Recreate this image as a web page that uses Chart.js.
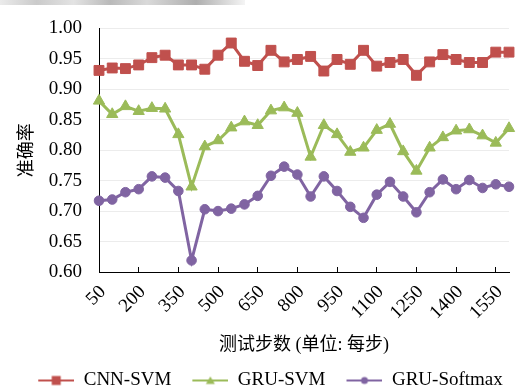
<!DOCTYPE html>
<html>
<head>
<meta charset="utf-8">
<script src="https://cdn.jsdelivr.net/npm/chart.js@4.4.1/dist/chart.umd.min.js"></script>
<style>
  html, body { margin: 0; padding: 0; background: #fff; }
  #wrap { position: relative; width: 530px; height: 392px; overflow: hidden; }
  #strip { position: absolute; left: 0; top: 0; width: 245px; height: 5px;
    background: linear-gradient(90deg, #e6e6e6 0%, #bdbdbd 15%, #dcdcdc 30%, #a8a8a8 45%, #d0d0d0 60%, #9a9a9a 80%, #f2f2f2 100%); opacity: 0.8; }
  canvas { position: absolute; left: 0; top: 0; }
</style>
</head>
<body>
<div id="wrap">
  <div id="strip"></div>
  <canvas id="c" width="530" height="392"></canvas>
</div>
<script>
// ---- data ----
const steps = [50,100,150,200,250,300,350,400,450,500,550,600,650,700,750,800,
               850,900,950,1000,1050,1100,1150,1200,1250,1300,1350,1400,1450,1500,1550,1600];
const tickLabels = ['50','200','350','500','650','800','950','1100','1250','1400','1550'];
const seriesNames = ['CNN-SVM', 'GRU-SVM', 'GRU-Softmax'];
const cnnSvm = [0.931,0.935,0.934,0.940,0.952,0.956,0.940,0.940,0.933,0.956,0.976,0.946,0.939,0.964,0.945,0.949,
                0.954,0.930,0.949,0.941,0.964,0.938,0.944,0.949,0.923,0.945,0.957,0.949,0.944,0.944,0.961,0.961];
const gruSvm = [0.881,0.859,0.872,0.864,0.869,0.868,0.826,0.740,0.806,0.816,0.837,0.847,0.841,0.865,0.870,0.861,
                0.789,0.841,0.826,0.797,0.804,0.833,0.843,0.798,0.766,0.804,0.821,0.832,0.834,0.824,0.812,0.836];
const gruSoftmax = [0.717,0.719,0.731,0.736,0.757,0.755,0.733,0.619,0.703,0.700,0.704,0.711,0.725,0.758,0.773,0.760,
                    0.724,0.757,0.733,0.707,0.689,0.727,0.748,0.724,0.698,0.731,0.752,0.736,0.751,0.738,0.744,0.740];
const yTicks = { min: 0.60, max: 1.00, step: 0.05 };

// ---- styles ----
const colors = ['#C0504D', '#9BBB59', '#8064A2'];
const pointStyles = ['rect', 'triangle', 'circle'];
const pointRadii = [7, 6.5, 4.8];
const serif = "'Liberation Serif', 'Times New Roman', serif";
const cjk = "'Liberation Serif', 'Noto Sans CJK SC', serif";

function legendIcon(color, style) {
  const cv = document.createElement('canvas');
  cv.width = 47; cv.height = 12;
  const g = cv.getContext('2d');
  g.strokeStyle = color; g.fillStyle = color; g.lineWidth = 2;
  g.beginPath(); g.moveTo(11, 6); g.lineTo(47, 6); g.stroke();
  const cx = 29, cy = 6;
  g.beginPath();
  if (style === 'rect') { g.rect(cx - 4.5, cy - 4.5, 9, 9); }
  else if (style === 'triangle') { g.moveTo(cx, cy - 4); g.lineTo(cx + 4.5, cy + 3.5); g.lineTo(cx - 4.5, cy + 3.5); g.closePath(); }
  else { g.arc(cx, cy, 3.5, 0, Math.PI * 2); }
  g.fill();
  return cv;
}
const icons = colors.map((c, i) => legendIcon(c, pointStyles[i]));

const datasets = [cnnSvm, gruSvm, gruSoftmax].map((d, i) => ({
  label: seriesNames[i],
  data: d,
  borderColor: colors[i],
  backgroundColor: colors[i],
  borderWidth: 3,
  tension: 0,
  pointStyle: pointStyles[i],
  pointRadius: pointRadii[i],
  pointBackgroundColor: colors[i],
  pointBorderColor: colors[i],
  pointBorderWidth: 1
}));

new Chart(document.getElementById('c'), {
  type: 'line',
  data: { labels: steps.map(String), datasets },
  options: {
    responsive: false,
    animation: false,
    devicePixelRatio: 1,
    layout: { padding: { top: 18, right: 0, bottom: -8, left: 0 } },
    plugins: {
      tooltip: { enabled: false },
      legend: {
        position: 'bottom',
        labels: {
          usePointStyle: true,
          pointStyleWidth: 47,
          padding: 10,
          color: '#000',
          font: { family: serif, size: 19 },
          generateLabels(chart) {
            const items = Chart.defaults.plugins.legend.labels.generateLabels(chart);
            items.forEach((it, i) => { it.pointStyle = icons[i]; });
            return items;
          }
        }
      }
    },
    scales: {
      x: {
        type: 'category',
        offset: false,
        border: { color: '#000', width: 1 },
        grid: {
          display: true,
          drawOnChartArea: false,
          drawTicks: true,
          tickLength: -5,
          color: (ctx) => (ctx.tick && ctx.index > 0 && tickLabels.includes(String(steps[ctx.index]))) ? '#000' : 'rgba(0,0,0,0)'
        },
        ticks: {
          autoSkip: false,
          minRotation: 45,
          maxRotation: 45,
          padding: 14,
          labelOffset: 4,
          color: '#000',
          font: { family: serif, size: 19 },
          callback(v, i) { const s = String(steps[i]); return tickLabels.includes(s) ? s : ''; }
        },
        title: {
          display: true,
          text: '测试步数 (单位: 每步)',
          color: '#000',
          font: { family: cjk, size: 18 },
          padding: { top: 0, bottom: 5 }
        },
        afterFit(s) { s.height = 89; s.paddingRight = 0; s.paddingLeft = 0; }
      },
      y: {
        min: yTicks.min,
        max: yTicks.max,
        border: { color: '#000', width: 1 },
        grid: { color: '#ececec', drawTicks: false, lineWidth: 1 },
        ticks: {
          stepSize: yTicks.step,
          padding: 17,
          color: '#000',
          font: { family: serif, size: 19 },
          callback: (v) => Number(v).toFixed(2)
        },
        title: {
          display: true,
          text: '准确率',
          color: '#000',
          font: { family: "'Noto Sans CJK SC', sans-serif", size: 18 },
          padding: { top: 14, bottom: 0 }
        },
        afterFit(s) { s.width = 99; }
      },
      yR: {
        type: 'linear',
        position: 'right',
        display: true,
        grid: { display: false },
        border: { display: false },
        ticks: { display: false },
        afterFit(s) { s.width = 21; }
      }
    }
  }
});
</script>
</body>
</html>
